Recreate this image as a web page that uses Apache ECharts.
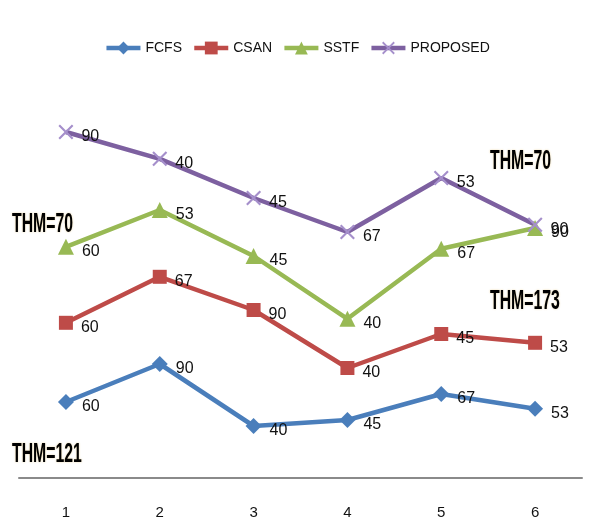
<!DOCTYPE html>
<html>
<head>
<meta charset="UTF-8"/>
<title></title>
<script src="https://cdn.jsdelivr.net/npm/echarts@6/dist/echarts.min.js"></script>
<style>
  html, body { margin: 0; padding: 0; background: #fff; }
  #chart { width: 594px; height: 524px; }
</style>
</head>
<body>
<div id="chart"></div>
<script type="text/javascript">
// categories along the bottom axis
var categories = ['1', '2', '3', '4', '5', '6'];
// plotted heights (hidden y scale 0-100)
var fcfsY     = [19, 28.5, 13, 14.5, 21, 17.3];
var csanY     = [38.8, 50.3, 42, 27.5, 36, 33.8];
var sstfY     = [57.8, 67, 55.5, 39.8, 57.3, 62.5];
var proposedY = [86.5, 79.8, 70, 61.5, 75, 63.3];
// numbers printed beside each point
var fcfsLbl     = [60, 90, 40, 45, 67, 53];
var csanLbl     = [60, 67, 90, 40, 45, 53];
var sstfLbl     = [60, 53, 45, 40, 67, 90];
var proposedLbl = [90, 40, 45, 67, 53, 90];

var FONT = '"Liberation Sans Narrow", "Arial Narrow", "Liberation Sans", sans-serif';

function mkSeries(name, ys, lbls, color, symbol, symSize, symColor) {
  return {
    name: name,
    type: 'line',
    data: ys.map(function (v, i) { return { value: v, lbl: lbls[i] }; }),
    symbol: symbol,
    symbolSize: symSize,
    lineStyle: { color: color, width: 4.5 },
    itemStyle: { color: symColor || color },
    label: {
      show: true,
      position: 'right',
      distance: 8,
      offset: [0, 5],
      color: '#111',
      fontFamily: FONT,
      fontSize: 16,
      formatter: function (p) { return p.data.lbl; }
    }
  };
}

var crossPath = 'path://M0,1L1,0L5,4L9,0L10,1L6,5L10,9L9,10L5,6L1,10L0,9L4,5Z';

function thm(txt, x, y) {
  return {
    type: 'text', left: x, top: y, scaleX: 0.79, scaleY: 1.4,
    style: {
      text: txt,
      fill: '#000',
      font: 'bold 20px ' + FONT,
      textShadowColor: 'rgba(210,160,40,0.45)',
      textShadowBlur: 2
    }
  };
}

var myChart = echarts.init(document.getElementById('chart'));
var option = {
  backgroundColor: '#fff',
  animation: false,
  legend: {
    top: 36,
    left: 'center',
    itemWidth: 34,
    itemHeight: 16,
    itemGap: 10,
    lineStyle: { width: 4.5 },
    textStyle: { fontFamily: FONT, fontSize: 14, color: '#111' },
    data: ['FCFS', 'CSAN', 'SSTF', 'PROPOSED']
  },
  grid: { left: 19, right: 12, top: 78, bottom: 46 },
  xAxis: {
    type: 'category',
    data: categories,
    boundaryGap: true,
    axisLine: { lineStyle: { color: '#8a8a8a', width: 2 } },
    axisTick: { show: false },
    axisLabel: { margin: 27, fontFamily: FONT, fontSize: 15, color: '#111' }
  },
  yAxis: {
    type: 'value',
    min: 0,
    max: 100,
    show: false,
    splitLine: { show: false }
  },
  graphic: [
    thm('THM=70', 12, 210),
    thm('THM=70', 490, 147),
    thm('THM=173', 490, 287),
    thm('THM=121', 12, 440)
  ],
  series: [
    mkSeries('FCFS', fcfsY, fcfsLbl, '#4a7ebb', 'diamond', 16),
    mkSeries('CSAN', csanY, csanLbl, '#be4b48', 'rect', 14),
    mkSeries('SSTF', sstfY, sstfLbl, '#98b954', 'triangle', 16),
    mkSeries('PROPOSED', proposedY, proposedLbl, '#7d60a0', crossPath, 15, '#a58fcb')
  ]
};
myChart.setOption(option);
</script>
</body>
</html>
